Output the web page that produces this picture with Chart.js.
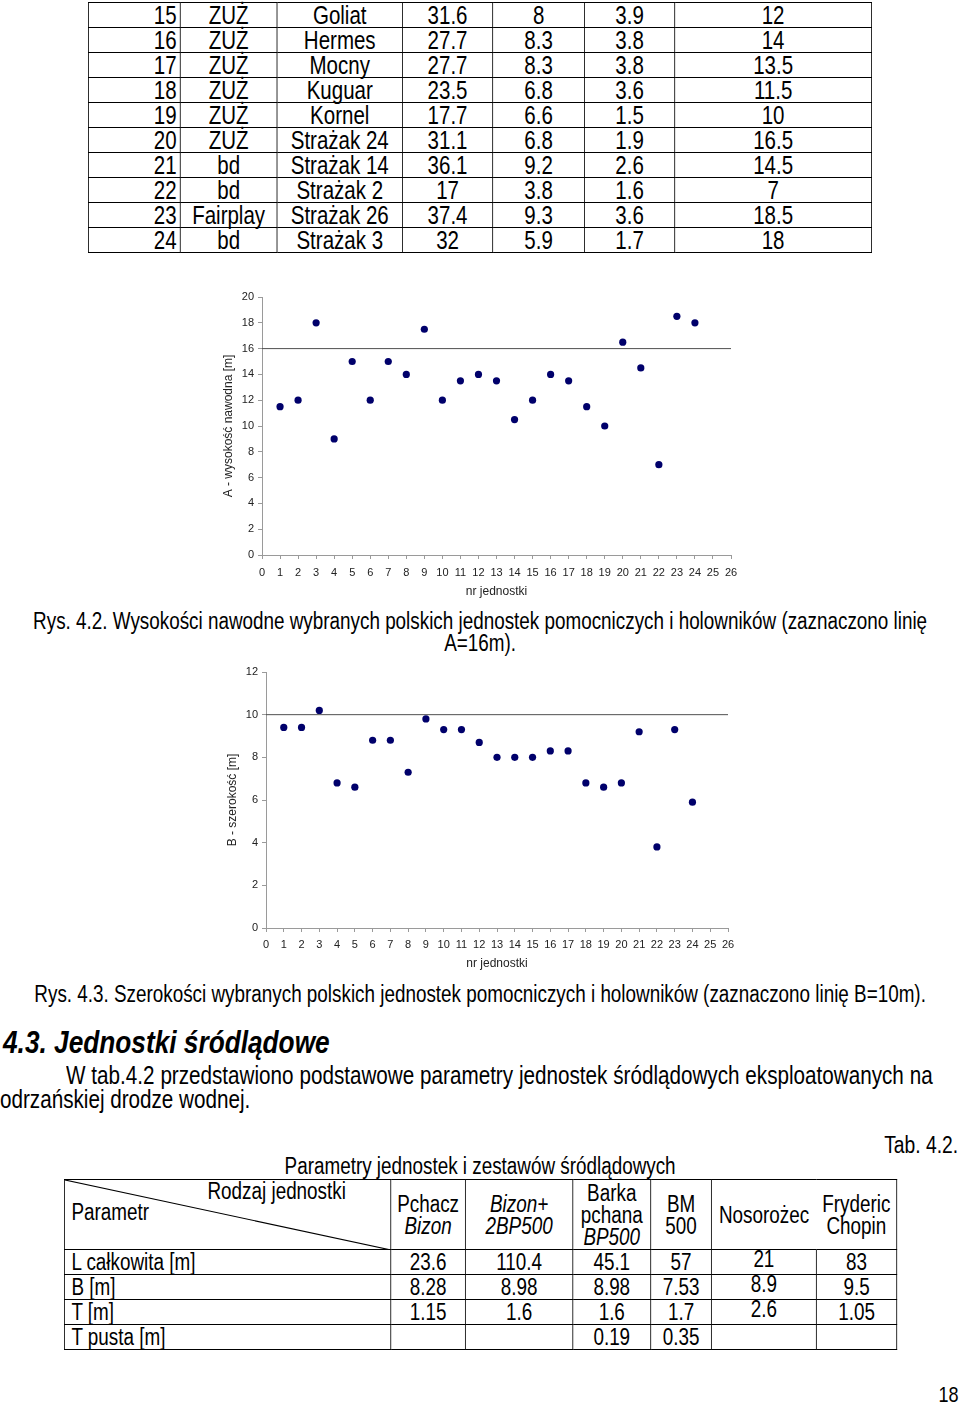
<!DOCTYPE html>
<html lang="pl">
<head>
<meta charset="utf-8">
<title>Rys. 4.2 i 4.3</title>
<script src="https://cdn.jsdelivr.net/npm/chart.js@4"></script>
<style>
  html, body { margin: 0; padding: 0; background: #fff; }
  body {
    width: 960px; height: 1404px; position: relative; overflow: hidden;
    font-family: "Liberation Sans", Arial, sans-serif;
    color: #000;
  }
  .abs { position: absolute; white-space: nowrap; }
  /* the document text is set in a narrow face; squeeze the regular one */
  .narrow { transform: scaleX(0.82); transform-origin: 0 0; }
  .narrow-r { transform: scaleX(0.82); transform-origin: 100% 0; }
  .spread { display: flex; justify-content: space-between; }
  table { position: absolute; border-collapse: collapse; table-layout: fixed; }
  td { border: 1px solid #000; padding: 0; text-align: center; white-space: nowrap; }
  #units td { height: 24px; line-height: 24px; font-size: 25px; }
  #units td.nr { text-align: right; padding-right: 4px; }
  #inland td { font-size: 23px; line-height: 22px; }
  #inland tr.data td { height: 24px; line-height: 24px; }
  #inland td.lbl { text-align: left; padding-left: 8px; }
  #inland .it { font-style: italic; }
  canvas { position: absolute; }
</style>
</head>
<body>

<table id="units" class="narrow" style="left:88px; top:2px; width:955px;">
  <colgroup>
    <col style="width:112px"><col style="width:118px"><col style="width:153px">
    <col style="width:110px"><col style="width:112px"><col style="width:110px"><col style="width:240px">
  </colgroup>
  <tbody></tbody>
</table>

<canvas id="chartA" width="560" height="325" style="left:200px; top:280px;"></canvas>

<div class="abs narrow" style="left:0; width:1171px; top:610px; text-align:center; font-size:23px; line-height:22px;">
  Rys. 4.2. Wysokości nawodne wybranych polskich jednostek pomocniczych i holowników (zaznaczono linię<br>A=16m).
</div>

<canvas id="chartB" width="560" height="325" style="left:200px; top:655px;"></canvas>

<div class="abs narrow" style="left:0; width:1171px; top:983px; text-align:center; font-size:23px; line-height:22px;">
  Rys. 4.3. Szerokości wybranych polskich jednostek pomocniczych i holowników (zaznaczono linię B=10m).
</div>

<div class="abs narrow" style="left:3px; top:1026px; font-size:32px; line-height:32px; font-weight:bold; font-style:italic;">
  4.3. Jednostki śródlądowe
</div>

<div class="abs narrow spread" style="left:66px; width:1057px; top:1062px; font-size:25.2px; line-height:26px;">
  <span>W</span><span>tab.4.2</span><span>przedstawiono</span><span>podstawowe</span><span>parametry</span><span>jednostek</span><span>śródlądowych</span><span>eksploatowanych</span><span>na</span>
</div>
<div class="abs narrow" style="left:0; top:1086px; font-size:25.2px; line-height:26px;">odrzańskiej drodze wodnej.</div>

<div class="abs narrow-r" style="right:2px; top:1134px; font-size:23.5px; line-height:22px;">Tab. 4.2.</div>
<div class="abs narrow" style="left:0; width:1171px; top:1155px; text-align:center; font-size:23px; line-height:22px;">
  Parametry jednostek i zestawów śródlądowych
</div>

<table id="inland" class="narrow" style="left:64px; top:1179px; width:1015px;">
  <colgroup>
    <col style="width:398px"><col style="width:91px"><col style="width:131px"><col style="width:95px">
    <col style="width:74px"><col style="width:128px"><col style="width:98px">
  </colgroup>
  <tbody>
    <tr style="height:70px;">
      <td style="position:relative; text-align:left;">
        <svg width="398" height="70" style="position:absolute; left:0; top:0;">
          <line x1="0" y1="0" x2="398" y2="70" stroke="#000" stroke-width="1.2"/>
        </svg>
        <span style="position:absolute; left:174px; top:0;">Rodzaj jednostki</span>
        <span style="position:absolute; left:8px; top:21px;">Parametr</span>
      </td>
      <td>Pchacz<br><span class="it">Bizon</span></td>
      <td class="it">Bizon+<br>2BP500</td>
      <td>Barka<br>pchana<br><span class="it">BP500</span></td>
      <td>BM<br>500</td>
      <td style="border-right:none;">Nosorożec</td>
      <td style="border-left:none;">Fryderic<br>Chopin</td>
    </tr>
  </tbody>
</table>

<div class="abs narrow-r" style="right:2px; top:1384px; font-size:22px; line-height:22px;">18</div>

<script>
// --- chart data ---
const unitNo = [1, 2, 3, 4, 5, 6, 7, 8, 9, 10, 11, 12, 13, 14, 15, 16, 17, 18, 19, 20, 21, 22, 23, 24];
const heightA = [11.5, 12, 18, 9, 15, 12, 15, 14, 17.5, 12, 13.5, 14, 13.5, 10.5, 12, 14, 13.5, 11.5, 10, 16.5, 14.5, 7, 18.5, 18];
const widthB = [9.4, 9.4, 10.2, 6.8, 6.6, 8.8, 8.8, 7.3, 9.8, 9.3, 9.3, 8.7, 8, 8, 8, 8.3, 8.3, 6.8, 6.6, 6.8, 9.2, 3.8, 9.3, 5.9];
const limitA = 16;
const limitB = 10;
const xMax = 26;

// --- table rows 15..24 (A and B come from the chart arrays) ---
const rowTypes = ['ZUŻ', 'ZUŻ', 'ZUŻ', 'ZUŻ', 'ZUŻ', 'ZUŻ', 'bd', 'bd', 'Fairplay', 'bd'];
const rowNames = ['Goliat', 'Hermes', 'Mocny', 'Kuguar', 'Kornel', 'Strażak 24', 'Strażak 14', 'Strażak 2', 'Strażak 26', 'Strażak 3'];
const rowL = [31.6, 27.7, 27.7, 23.5, 17.7, 31.1, 36.1, 17, 37.4, 32];
const rowT = [3.9, 3.8, 3.8, 3.6, 1.5, 1.9, 2.6, 1.6, 3.6, 1.7];

// --- inland units table ---
const inlandParams = ['L całkowita [m]', 'B [m]', 'T [m]', 'T pusta [m]'];
const inlandValues = [
  ['23.6', '110.4', '45.1', '57', '21', '83'],
  ['8.28', '8.98', '8.98', '7.53', '8.9', '9.5'],
  ['1.15', '1.6', '1.6', '1.7', '2.6', '1.05'],
  ['', '', '0.19', '0.35', '', '']
];

const unitsBody = document.querySelector('#units tbody');
for (let i = 0; i < rowNames.length; i++) {
  const k = 14 + i;
  const tr = document.createElement('tr');
  const cells = [unitNo[k], rowTypes[i], rowNames[i], rowL[i], widthB[k], rowT[i], heightA[k]];
  cells.forEach((v, j) => {
    const td = document.createElement('td');
    td.textContent = String(v);
    if (j === 0) td.className = 'nr';
    tr.appendChild(td);
  });
  unitsBody.appendChild(tr);
}

const inlandBody = document.querySelector('#inland tbody');
inlandParams.forEach((p, i) => {
  const tr = document.createElement('tr');
  tr.className = 'data';
  const th = document.createElement('td');
  th.className = 'lbl';
  th.textContent = p;
  tr.appendChild(th);
  inlandValues[i].forEach((v, j) => {
    const td = document.createElement('td');
    if (j === 4) {
      // Nosorożec column sits a little higher in the original
      td.innerHTML = '<span style="position:relative; top:-3px;">' + v + '</span>';
    } else {
      td.textContent = v;
    }
    tr.appendChild(td);
  });
  inlandBody.appendChild(tr);
});

// --- charts ---
const AXIS = '#9a9a9a';
const TICK = '#222';
const DOT = '#00006b';
const tickFont = { family: '"Liberation Sans", Arial, sans-serif', size: 11 };
const titleFont = { family: '"Liberation Sans", Arial, sans-serif', size: 12 };

function makeChart(id, values, limit, yMax, yTitle, g) {
  const ctx = document.getElementById(id).getContext('2d');
  return new Chart(ctx, {
    type: 'scatter',
    data: {
      datasets: [
        {
          data: unitNo.map((n, i) => ({ x: n, y: values[i] })),
          backgroundColor: DOT,
          borderColor: DOT,
          pointRadius: 3.6,
          pointBorderWidth: 0
        },
        {
          type: 'line',
          showLine: true,
          data: [{ x: 0, y: limit }, { x: xMax, y: limit }],
          borderColor: '#505050',
          borderWidth: 1,
          pointRadius: 0
        }
      ]
    },
    options: {
      responsive: false,
      animation: false,
      layout: { padding: { top: g.padTop, right: g.padRight, left: 0, bottom: 0 } },
      plugins: { legend: { display: false }, tooltip: { enabled: false } },
      scales: {
        x: {
          type: 'linear', min: 0, max: xMax,
          afterFit: s => { s.height = g.xHeight; },
          ticks: { stepSize: 1, color: TICK, font: tickFont, padding: g.xTickPad, maxRotation: 0, autoSkip: false },
          grid: { drawOnChartArea: false, color: AXIS, tickLength: 4 },
          border: { color: AXIS },
          title: { display: true, text: 'nr jednostki', color: TICK, font: titleFont, padding: { top: 0, bottom: g.xTitlePad } }
        },
        y: {
          min: 0, max: yMax,
          afterFit: s => { s.width = g.yWidth; },
          ticks: { stepSize: 2, color: TICK, font: tickFont, padding: 4 },
          grid: { drawOnChartArea: false, color: AXIS, tickLength: 4 },
          border: { color: AXIS },
          title: { display: true, text: yTitle, color: TICK, font: titleFont, padding: { top: g.yTitlePad, bottom: 0 } }
        }
      }
    }
  });
}

makeChart('chartA', heightA, limitA, 20, 'A - wysokość nawodna [m]',
  { padTop: 17, padRight: 29, yWidth: 62, xHeight: 50, xTickPad: 7, xTitlePad: 5.8, yTitlePad: 21.8 });
makeChart('chartB', widthB, limitB, 12, 'B - szerokość [m]',
  { padTop: 17, padRight: 32, yWidth: 66, xHeight: 52, xTickPad: 6, xTitlePad: 8.8, yTitlePad: 25.8 });
</script>
</body>
</html>
